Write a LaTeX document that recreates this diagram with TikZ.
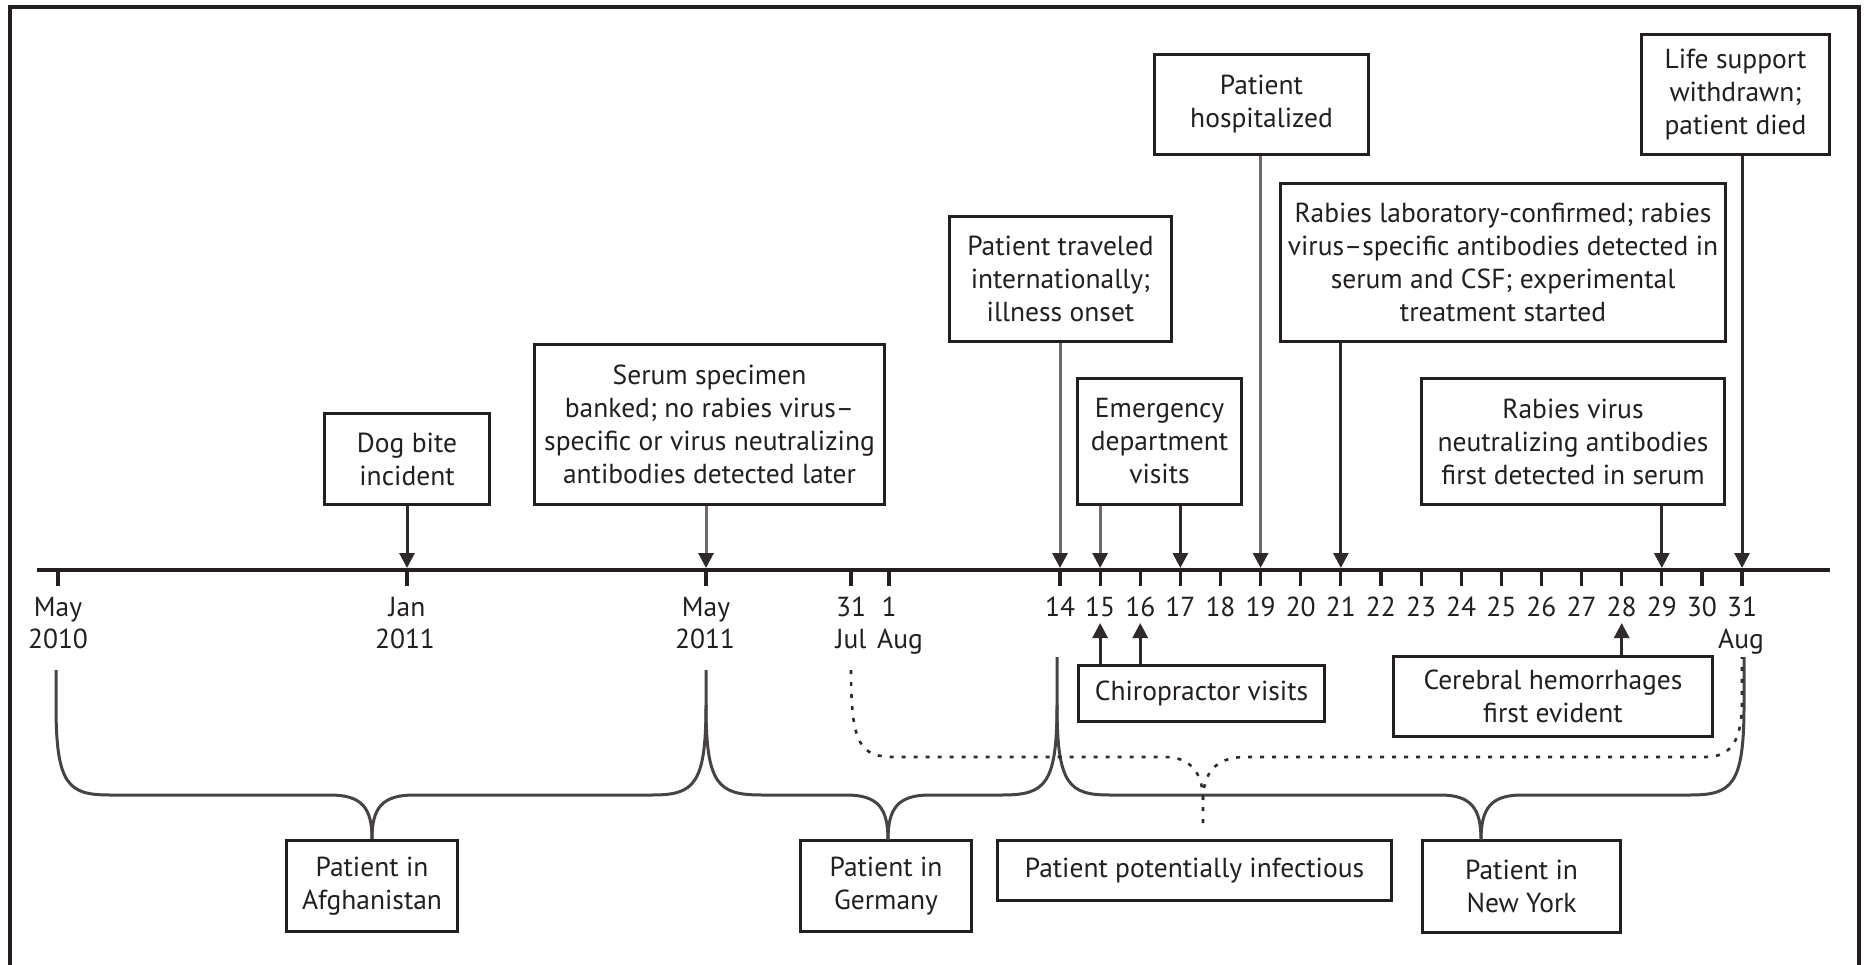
\documentclass[tikz,border=0pt]{standalone}
\usepackage{fontspec}
\setmainfont{PT Sans}
\usetikzlibrary{arrows.meta,calc}
\definecolor{ink}{HTML}{231F20}
\definecolor{linec}{HTML}{2E2A2B}
\definecolor{lightl}{HTML}{6E6A6B}
\definecolor{bracec}{HTML}{474344}
\begin{document}
\begin{tikzpicture}[x=1pt,y=-1pt,
  font=\fontsize{27.5}{33}\selectfont, text=ink,
  box/.style={draw=ink, line width=3.4pt, align=center, inner sep=0pt, fill=white},
  arr/.style={-{Triangle[length=15pt,width=15pt]}, line width=3pt, draw=linec, fill=linec},
  arrl/.style={arr, draw=lightl, -{Triangle[length=15pt,width=15pt,color=linec,fill=linec]}},
  brace/.style={line width=3pt, draw=bracec, line join=round},
  dots/.style={line width=2.6pt, draw=linec, dash pattern=on 4pt off 8pt},
  tickmark/.style={line width=3.2pt, draw=ink},
  lab/.style={anchor=base, inner sep=0pt}]
\useasboundingbox (0,0) rectangle (1867,965);
% frame
\draw[line width=3.4pt, draw=ink] (10,965) -- (10,7) -- (1859,7) -- (1859,965);
% timeline
\coordinate (tl0) at (37,570);
\coordinate (tl1) at (1830,570);
\draw[line width=4.2pt, draw=ink] (tl0) -- (tl1);
% month ticks
\coordinate (may10) at (58,570);
\coordinate (jan11) at (407,570);
\coordinate (may11) at (706,570);
\coordinate (jul31) at (851,570);
\coordinate (aug1) at (889,570);
\foreach \c in {may10,jan11,may11,jul31,aug1} {\draw[tickmark] (\c) -- ++(0,16);}
\node[lab] (lmay10) at (58,616) {May};
\node[lab] (ly10) at (58,648) {2010};
\node[lab] (ljan) at (407,616) {Jan};
\node[lab] (ly11a) at (405,648) {2011};
\node[lab] (lmay11) at (706,616) {May};
\node[lab] (ly11b) at (705,648) {2011};
\node[lab] (l31) at (851,616) {31};
\node[lab] (ljul) at (851,648) {Jul};
\node[lab] (l1) at (889,616) {1};
\node[lab] (laug1) at (900,648) {Aug};
% day ticks
\foreach \d in {14,...,31} {
  \pgfmathsetmacro{\xx}{1060+(\d-14)*40.12}
  \coordinate (t\d) at (\xx,570);
  \draw[tickmark] (t\d) -- ++(0,16);
  \node[lab] (n\d) at (\xx,616) {\d};
}
\node[lab] (laug31) at (1741,648) {Aug};
% boxes above
\node[box, minimum width=165, minimum height=91] (dog) at (407,459) {Dog bite\\incident};
\node[box, minimum width=350, minimum height=160] (serum) at (709.5,424.5) {Serum specimen\\banked; no rabies virus–\\specific or virus neutralizing\\antibodies detected later};
\node[box, minimum width=222, minimum height=125] (trav) at (1060.5,279) {Patient traveled\\internationally;\\illness onset};
\node[box, minimum width=214, minimum height=100] (hosp) at (1261.5,104.5) {Patient\\hospitalized};
\node[box, minimum width=188, minimum height=120] (life) at (1735.5,94.5) {Life support\\withdrawn;\\patient died};
\node[box, minimum width=445, minimum height=158] (lab) at (1503,262.5) {Rabies laboratory-confirmed; rabies\\virus–specific antibodies detected in\\serum and CSF; experimental\\treatment started};
\node[box, minimum width=164, minimum height=126] (emer) at (1159.5,441.5) {Emergency\\department\\visits};
\node[box, minimum width=303, minimum height=126] (neut) at (1573,441.5) {Rabies virus\\neutralizing antibodies\\first detected in serum};
% boxes below
\node[box, minimum width=246, minimum height=56] (chiro) at (1201.5,693.5) {Chiropractor visits};
\node[box, minimum width=319, minimum height=80] (cereb) at (1553,696.5) {Cerebral hemorrhages\\first evident};
\node[box, minimum width=171, minimum height=91] (afg) at (372,886) {Patient in\\Afghanistan};
\node[box, minimum width=171, minimum height=91] (ger) at (886,886) {Patient in\\Germany};
\node[box, minimum width=394, minimum height=60] (inf) at (1194.5,870.5) {Patient potentially infectious};
\node[box, minimum width=198, minimum height=92] (ny) at (1521.5,886.5) {Patient in\\New York};
% arrows down to timeline
\draw[arr] (dog.south) -- ($(jan11)+(0,-2)$);
\draw[arrl] (serum.south -| may11) -- ($(may11)+(0,-2)$);
\draw[arrl] (trav.south -| t14) -- ($(t14)+(0,-2)$);
\draw[arrl] (emer.south -| t15) -- ($(t15)+(0,-2)$);
\draw[arr] (emer.south -| t17) -- ($(t17)+(0,-2)$);
\draw[arrl] (hosp.south -| t19) -- ($(t19)+(0,-2)$);
\draw[arr] (lab.south -| t21) -- ($(t21)+(0,-2)$);
\draw[arr] (neut.south -| t29) -- ($(t29)+(0,-2)$);
\draw[arr] (life.south -| t31) -- ($(t31)+(0,-2)$);
% arrows up from lower boxes
\coordinate (u15) at ($(t15)+(0,53)$);
\coordinate (u16) at ($(t16)+(0,53)$);
\coordinate (u28) at ($(t28)+(0,53)$);
\draw[arr] (chiro.north -| u15) -- (u15);
\draw[arr] (chiro.north -| u16) -- (u16);
\draw[arr] (cereb.north -| u28) -- (u28);
% braces
\draw[brace] (56,670) -- (56,705) .. controls (56,785) and (68,795) .. (110,795) -- (330,795) .. controls (362,795) and (372,808) .. (afg.north);
\draw[brace] (afg.north) .. controls (372,808) and (382,795) .. (414,795) -- (652,795) .. controls (694,795) and (706,785) .. (706,705) -- (706,670);
\draw[brace] (706,705) .. controls (706,785) and (718,795) .. (762,795) -- (846,795) .. controls (878,795) and (888,808) .. (888,840);
\draw[brace] (888,840) .. controls (888,808) and (898,795) .. (930,795) -- (1002,795) .. controls (1045,795) and (1057,785) .. (1057,705) -- (1057,657);
\draw[brace] (1057,705) .. controls (1057,785) and (1069,795) .. (1110,795) -- (1440,795) .. controls (1471,795) and (1481,808) .. (1481,840);
\draw[brace] (1481,840) .. controls (1481,808) and (1491,795) .. (1522,795) -- (1690,795) .. controls (1732,795) and (1744,785) .. (1744,705) -- (1744,657);
% dotted brace
\draw[dots] (851,670) .. controls (851,745) and (860,757) .. (895,757) -- (1165,757) .. controls (1192,757) and (1203,775) .. (1203,800) -- (1203,830);
\draw[dots] (1203,800) .. controls (1203,775) and (1214,757) .. (1245,757) -- (1705,757) .. controls (1732,757) and (1742,740) .. (1742,700) -- (1742,657);
\end{tikzpicture}
\end{document}
